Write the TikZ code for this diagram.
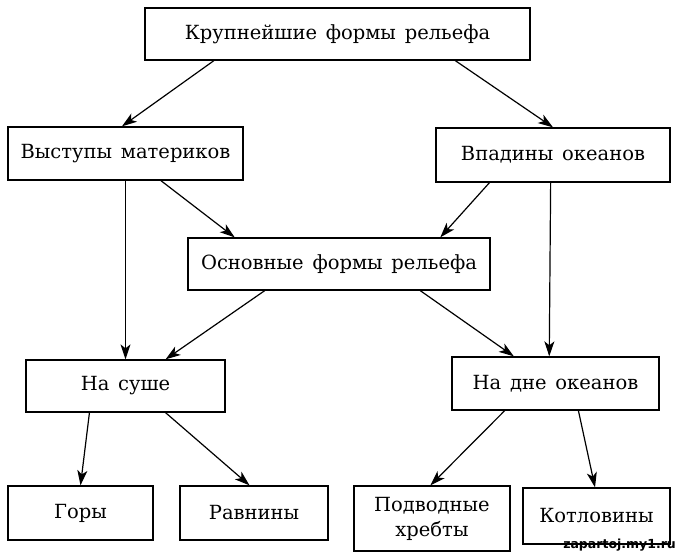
\documentclass[tikz,border=0pt]{standalone}
\usepackage{fontspec}
\setmainfont{DejaVu Serif}
\setsansfont{DejaVu Sans}
\usetikzlibrary{arrows.meta,calc}

\newcommand\boxfont{\fontsize{19.5}{25}\selectfont\spaceskip=0.45em plus 0.1em\relax}

\tikzset{
  formbox/.style={draw, line width=1.3pt, inner sep=0pt, align=center, font=\boxfont},
  link/.style={line width=1.2pt, -{Stealth[length=15pt,width=10pt,inset=4pt]}}
}

\begin{document}
\begin{tikzpicture}[x=1pt, y=-1pt]
  \useasboundingbox (0,0) rectangle (678,556);

  % boxes
  \node[formbox, minimum width=385pt, minimum height=52pt] (top) at (337.5,34) {Крупнейшие формы рельефа};
  \node[formbox, minimum width=235pt, minimum height=53pt] (vyst) at (125.5,153.5) {Выступы материков};
  \node[formbox, minimum width=234pt, minimum height=54pt] (vpad) at (553,155) {Впадины океанов};
  \node[formbox, minimum width=302pt, minimum height=52pt] (osn) at (339,264) {Основные формы рельефа};
  \node[formbox, minimum width=199pt, minimum height=52pt] (sushe) at (125.5,386) {На суше};
  \node[formbox, minimum width=207pt, minimum height=53pt] (dno) at (555.5,383.5) {На дне океанов};
  \node[formbox, minimum width=145pt, minimum height=54pt] (gory) at (80.5,513) {Горы};
  \node[formbox, minimum width=148pt, minimum height=54pt] (ravn) at (254,513) {Равнины};
  \node[formbox, minimum width=156pt, minimum height=65pt] (podv) at (432,518.5) {Подводные\\хребты};
  \node[formbox, minimum width=147pt, minimum height=56pt] (kotl) at (596.5,516) {Котловины};

  % arrows
  \draw[link] ($(top.south west)!.18!(top.south east)$) -- ($(vyst.north west)!.485!(vyst.north east)$);
  \draw[link] ($(top.south west)!.805!(top.south east)$) -- ($(vpad.north west)!.5!(vpad.north east)$);
  \draw[link] (vyst.south) -- (sushe.north);
  \draw[link] ($(vyst.south west)!.65!(vyst.south east)$) -- ($(osn.north west)!.156!(osn.north east)$);
  \draw[link] ($(vpad.south west)!.23!(vpad.south east)$) -- ($(osn.north west)!.834!(osn.north east)$);
  \draw[link] ($(vpad.south west)!.49!(vpad.south east)$) -- ($(dno.north west)!.47!(dno.north east)$);
  \draw[link] ($(osn.south west)!.255!(osn.south east)$) -- ($(sushe.north west)!.70!(sushe.north east)$);
  \draw[link] ($(osn.south west)!.768!(osn.south east)$) -- ($(dno.north west)!.30!(dno.north east)$);
  \draw[link] ($(sushe.south west)!.32!(sushe.south east)$) -- (gory.north);
  \draw[link] ($(sushe.south west)!.70!(sushe.south east)$) -- ($(ravn.north west)!.47!(ravn.north east)$);
  \draw[link] ($(dno.south west)!.256!(dno.south east)$) -- ($(podv.north west)!.49!(podv.north east)$);
  \draw[link] ($(dno.south west)!.61!(dno.south east)$) -- ($(kotl.north west)!.49!(kotl.north east)$);

  % watermark
  \node[anchor=east, inner sep=0pt, font=\sffamily\bfseries\fontsize{12.5}{14}\selectfont] (mark) at (676,545) {zapartoj.my1.ru};
\end{tikzpicture}
\end{document}
